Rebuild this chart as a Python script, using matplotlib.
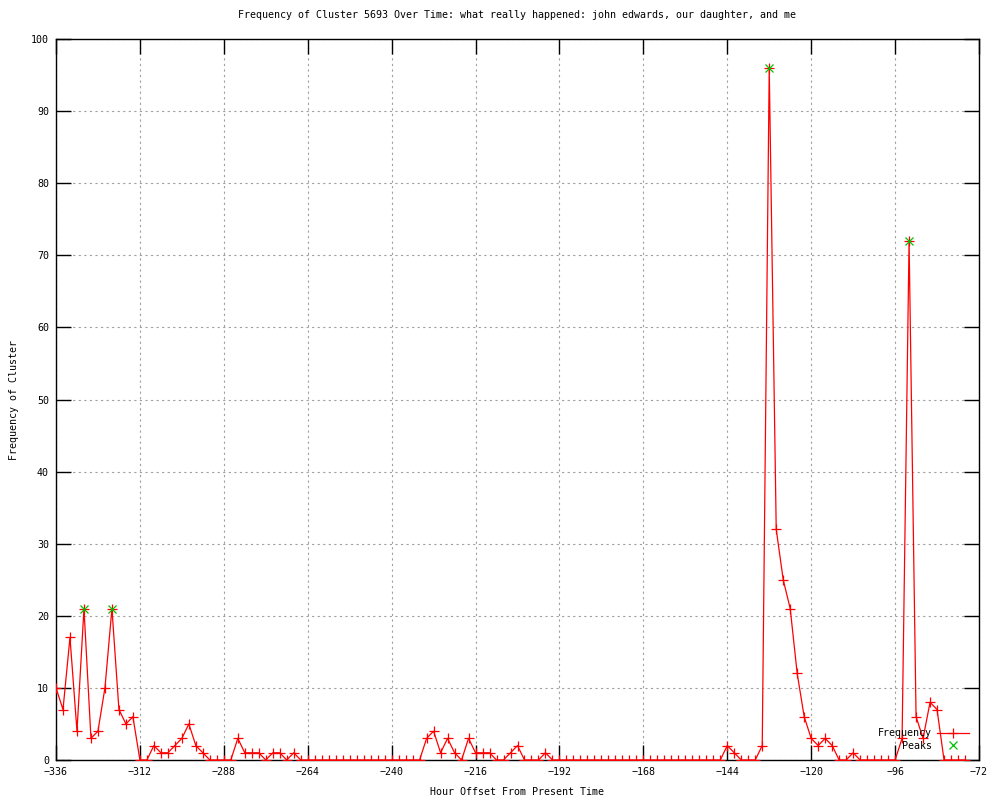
import numpy as np
import matplotlib
matplotlib.use("Agg")
import matplotlib.pyplot as plt
from matplotlib.lines import Line2D

# hour offsets, every 2 hours from -336 to -76
hours = list(range(-336, -74, 2))

freq = [10, 7, 17, 4, 21, 3, 4, 10, 21, 7, 5, 6, 0, 0, 2, 1, 1, 2, 3, 5,      # -336 .. -298
        2, 1, 0, 0, 0, 0, 3, 1, 1, 1, 0, 1, 1, 0, 1, 0,                       # -296 .. -266
        0, 0, 0, 0, 0, 0, 0, 0, 0, 0, 0, 0, 0, 0, 0, 0, 0,                    # -264 .. -232
        3, 4, 1, 3, 1, 0, 3, 1, 1, 1, 0, 0, 1, 2, 0, 0, 0, 1,                 # -230 .. -196
        0, 0, 0, 0, 0, 0, 0, 0, 0, 0, 0, 0, 0, 0, 0, 0, 0, 0, 0, 0, 0, 0, 0, 0, 0,  # -194 .. -146
        2, 1, 0, 0, 0, 2, 96, 32, 25, 21, 12, 6, 3, 2, 3, 2, 0, 0,            # -144 .. -110
        1, 0, 0, 0, 0, 0, 0, 3, 72, 6, 3, 8, 7, 0, 0, 0, 0]                   # -108 .. -76

peak_hours = [-328, -320, -132, -92]
peak_vals = [21, 21, 96, 72]

xticks = list(range(-336, -71, 24))
yticks = list(range(0, 101, 10))

plt.rcParams['font.family'] = ['DejaVu Sans Mono']
fs = 7.2

fig = plt.figure(figsize=(10, 8), dpi=100)
ax = fig.add_axes([0.056, 0.05, 0.923, 0.90125])

ax.plot(hours, freq, color='red', lw=0.9, marker='+', ms=6.5, mew=0.9, zorder=3)
ax.plot(peak_hours, peak_vals, ls='none', color='#00c000', marker='x', ms=5.5, mew=0.9, zorder=4)

ax.set_xlim(-336, -72)
ax.set_ylim(0, 100)
ax.set_xticks(xticks)
ax.set_yticks(yticks)
ax.tick_params(direction='in', length=11, width=1, top=True, right=True,
               labelsize=fs, pad=5, color='black')
ax.grid(True, color='#a0a0a0', ls=(0, (2, 3)), lw=0.8)
for s in ax.spines.values():
    s.set_linewidth(1)

ax.set_title('Frequency of Cluster 5693 Over Time: what really happened: john edwards, our daughter, and me',
             fontsize=fs, pad=15)
ax.set_xlabel('Hour Offset From Present Time', fontsize=fs, labelpad=7)
ax.set_ylabel('Frequency of Cluster', fontsize=fs)
ax.yaxis.set_label_coords(-0.040, 0.5)

handles = [Line2D([], [], color='red', lw=0.9, marker='+', ms=6.5, mew=0.9),
           Line2D([], [], ls='none', color='#00c000', marker='x', ms=5.5, mew=0.9)]
ax.legend(handles, ['Frequency', 'Peaks'], loc='lower right', frameon=False,
          markerfirst=False, fontsize=fs, handlelength=3.2, handletextpad=0.5,
          labelspacing=0.25, numpoints=1, borderaxespad=0,
          bbox_to_anchor=(0.9935, 0.007))

fig.savefig('out.png', dpi=100)
